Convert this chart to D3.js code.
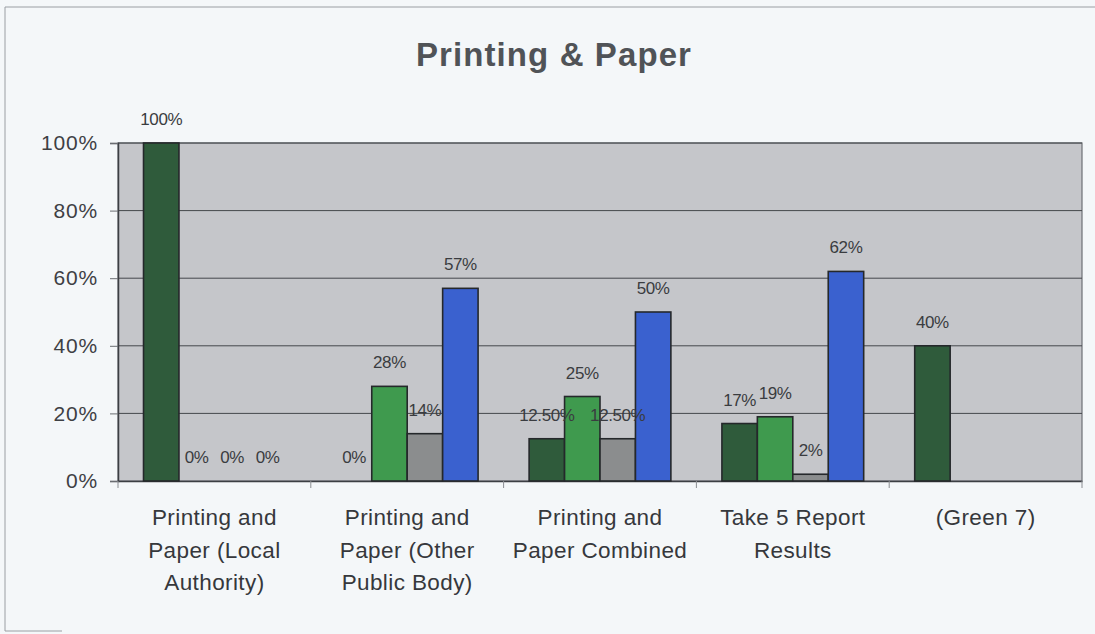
<!DOCTYPE html>
<html>
<head>
<meta charset="utf-8">
<script src="https://cdn.jsdelivr.net/npm/d3@7"></script>
<style>
  html, body { margin: 0; padding: 0; background: #f4f7f9; }
  svg { display: block; font-family: "Liberation Sans", Arial, sans-serif; }
</style>
</head>
<body>
<svg id="chart" width="1095" height="634"></svg>
<script>
// Categories (x axis, multi-line labels)
const categories = [
  ["Printing and", "Paper (Local", "Authority)"],
  ["Printing and", "Paper (Other", "Public Body)"],
  ["Printing and", "Paper Combined"],
  ["Take 5 Report", "Results"],
  ["(Green 7)"]
];

// Four series per category; null = no bar / no label
const series1 = [1.00, 0.00, 0.125, 0.17, 0.40];
const series2 = [0.00, 0.28, 0.25, 0.19, null];
const series3 = [0.00, 0.14, 0.125, 0.02, null];
const series4 = [0.00, 0.57, 0.50, 0.62, null];

const series1Labels = ["100%", "0%", "12.50%", "17%", "40%"];
const series2Labels = ["0%", "28%", "25%", "19%", null];
const series3Labels = ["0%", "14%", "12.50%", "2%", null];
const series4Labels = ["0%", "57%", "50%", "62%", null];

const yTicks = [0, 0.2, 0.4, 0.6, 0.8, 1.0];
const yTickLabels = ["0%", "20%", "40%", "60%", "80%", "100%"];

const seriesColors = ["#2f5b3b", "#3f9a4e", "#8b8d8e", "#3a61cf"];

const svg = d3.select("#chart");
const W = 1095, H = 634;

// Outer frame lines
svg.append("line").attr("x1", 5).attr("x2", W).attr("y1", 7).attr("y2", 7)
  .attr("stroke", "#9a9ea3").attr("stroke-width", 1);
svg.append("line").attr("x1", 5).attr("x2", 5).attr("y1", 7).attr("y2", 631)
  .attr("stroke", "#9a9ea3").attr("stroke-width", 1);
svg.append("line").attr("x1", 5).attr("x2", 62).attr("y1", 631).attr("y2", 631)
  .attr("stroke", "#9a9ea3").attr("stroke-width", 1);

const plot = { left: 118, right: 1082, top: 143, bottom: 481 };

const x0 = d3.scaleBand()
  .domain(d3.range(categories.length))
  .range([plot.left, plot.right])
  .paddingInner(0).paddingOuter(0);

const groupFrac = 4 / (4 + 1.44);
const groupW = x0.bandwidth() * groupFrac;
const x1 = d3.scaleBand().domain([0, 1, 2, 3]).range([0, groupW]);

const y = d3.scaleLinear().domain([0, 1]).range([plot.bottom, plot.top]);

// Title
svg.append("text")
  .attr("x", 554).attr("y", 66)
  .attr("text-anchor", "middle")
  .attr("font-size", 33).attr("font-weight", "bold")
  .attr("letter-spacing", 1.1)
  .attr("fill", "#505357")
  .text("Printing & Paper");

// Plot background
svg.append("rect")
  .attr("x", plot.left).attr("y", plot.top)
  .attr("width", plot.right - plot.left).attr("height", plot.bottom - plot.top)
  .attr("fill", "#c5c6ca")
  .attr("stroke", "#6d7075").attr("stroke-width", 1.2);

// Gridlines
svg.append("g").selectAll("line")
  .data(yTicks.filter(t => t > 0))
  .join("line")
  .attr("x1", plot.left).attr("x2", plot.right)
  .attr("y1", d => y(d)).attr("y2", d => y(d))
  .attr("stroke", "#45484c").attr("stroke-width", 1);

// Y axis
const yAxis = d3.axisLeft(y)
  .tickValues(yTicks)
  .tickFormat((d, i) => yTickLabels[i])
  .tickSize(8).tickPadding(12);
const gy = svg.append("g").attr("transform", `translate(${plot.left},0)`).call(yAxis);
gy.select(".domain").attr("stroke", "#3c3f44").attr("stroke-width", 1.5);
gy.selectAll(".tick line").attr("stroke", "#6a6d72");
gy.selectAll(".tick text").attr("font-size", 21).attr("fill", "#3e4044")
  .attr("letter-spacing", 0.8)
  .attr("font-family", "'Liberation Sans', Arial, sans-serif");

// X axis
const xAxis = d3.axisBottom(x0).tickSize(0).tickFormat("");
const gx = svg.append("g").attr("transform", `translate(0,${plot.bottom})`).call(xAxis);
gx.select(".domain").attr("stroke", "#3c3f44").attr("stroke-width", 1.5);
// category boundary ticks
svg.append("g").selectAll("line")
  .data(d3.range(categories.length + 1))
  .join("line")
  .attr("x1", i => plot.left + i * x0.bandwidth())
  .attr("x2", i => plot.left + i * x0.bandwidth())
  .attr("y1", plot.bottom).attr("y2", plot.bottom + 7)
  .attr("stroke", "#8a8d92");

// Category labels
const catG = svg.append("g");
categories.forEach((lines, i) => {
  const cx = x0(i) + x0.bandwidth() / 2;
  const t = catG.append("text")
    .attr("text-anchor", "middle")
    .attr("font-size", 22.5)
    .attr("fill", "#36383c")
    .attr("letter-spacing", 0.4);
  lines.forEach((ln, k) => {
    t.append("tspan").attr("x", cx).attr("y", 525 + k * 32.5).text(ln);
  });
});

// Bars
const allSeries = [series1, series2, series3, series4];
const allLabels = [series1Labels, series2Labels, series3Labels, series4Labels];

const rows = [];
allSeries.forEach((vals, s) => {
  vals.forEach((v, c) => {
    if (v !== null) rows.push({ s, c, v, label: allLabels[s][c] });
  });
});

const groupOffset = (x0.bandwidth() - groupW) / 2;

svg.append("g").selectAll("rect")
  .data(rows.filter(d => d.v > 0))
  .join("rect")
  .attr("x", d => x0(d.c) + groupOffset + x1(d.s))
  .attr("y", d => y(d.v))
  .attr("width", x1.bandwidth())
  .attr("height", d => y(0) - y(d.v))
  .attr("fill", d => seriesColors[d.s])
  .attr("stroke", "#25282b")
  .attr("stroke-width", 1.6);

// Value labels
svg.append("g").selectAll("text")
  .data(rows)
  .join("text")
  .attr("x", d => x0(d.c) + groupOffset + x1(d.s) + x1.bandwidth() / 2)
  .attr("y", d => y(d.v) - 18)
  .attr("text-anchor", "middle")
  .attr("font-size", 17)
  .attr("letter-spacing", -0.4)
  .attr("fill", "#3a3c40")
  .text(d => d.label);
</script>
</body>
</html>
